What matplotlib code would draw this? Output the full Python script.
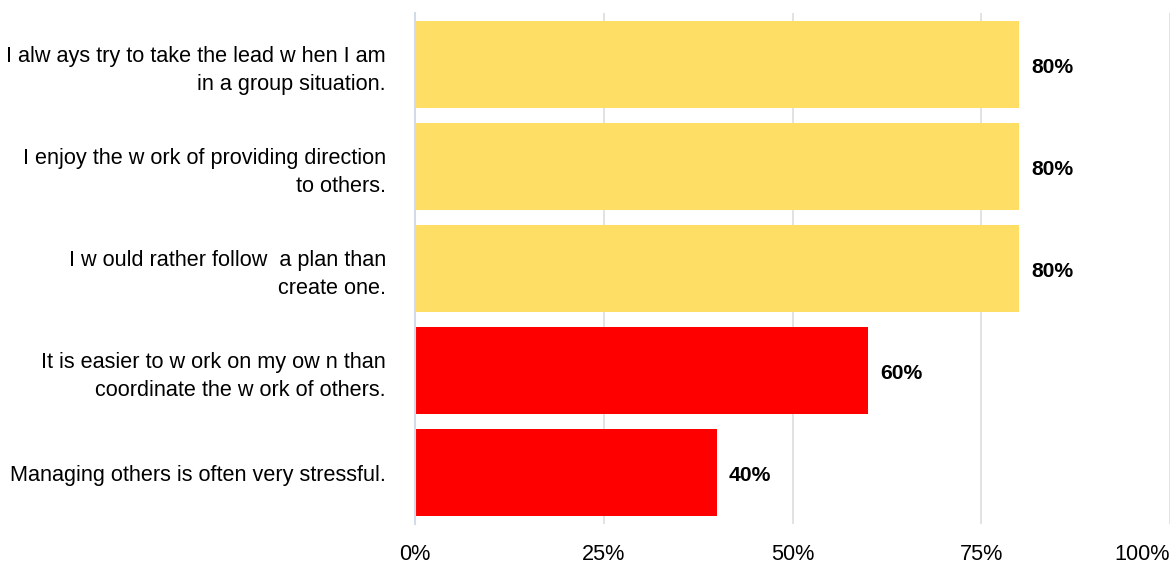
import matplotlib
matplotlib.use("Agg")
import matplotlib.pyplot as plt
from matplotlib.ticker import FixedLocator

statements = [
    "I alw ays try to take the lead w hen I am\nin a group situation.",
    "I enjoy the w ork of providing direction\nto others.",
    "I w ould rather follow  a plan than\ncreate one.",
    "It is easier to w ork on my ow n than\ncoordinate the w ork of others.",
    "Managing others is often very stressful.",
]
shares = [80, 80, 80, 60, 40]
bar_colors = ["#FFDE66", "#FFDE66", "#FFDE66", "#FF0000", "#FF0000"]
tick_values = [0, 25, 50, 75, 100]
tick_labels = ["0%", "25%", "50%", "75%", "100%"]

plt.rcParams["font.family"] = ["Liberation Sans", "DejaVu Sans"]

fig = plt.figure(figsize=(11.75, 5.66), dpi=100)
ax = fig.add_axes([415 / 1175, 1 - 524 / 566, 755 / 1175, 511 / 566])

pos = list(range(len(statements)))
ax.barh(pos, shares, height=0.85, color=bar_colors, zorder=2)

for y, v in zip(pos, shares):
    ax.text(v + 1.6, y + 0.03, f"{v}%", va="center", ha="left",
            fontsize=15.2, fontweight="bold", color="#000000")

ax.set_xlim(0, 100)
ax.set_ylim(len(statements) - 0.5, -0.5)
ax.xaxis.set_major_locator(FixedLocator(tick_values))
ax.set_xticklabels(tick_labels, fontsize=15.6)
ax.get_xticklabels()[-1].set_horizontalalignment("right")
ax.set_yticks(pos)
ax.set_yticklabels(statements, fontsize=15.6, linespacing=1.45)

ax.grid(axis="x", color="#DDDDDD", linewidth=1.2, zorder=0)
for s in ["top", "right", "bottom"]:
    ax.spines[s].set_visible(False)
ax.spines["left"].set_color("#D3DAE8")
ax.spines["left"].set_linewidth(1.5)
ax.spines["left"].set_zorder(3)
ax.tick_params(axis="x", length=0, pad=14.5)
ax.tick_params(axis="y", length=0, pad=21)

fig.savefig("out.png", dpi=100, facecolor="white")
